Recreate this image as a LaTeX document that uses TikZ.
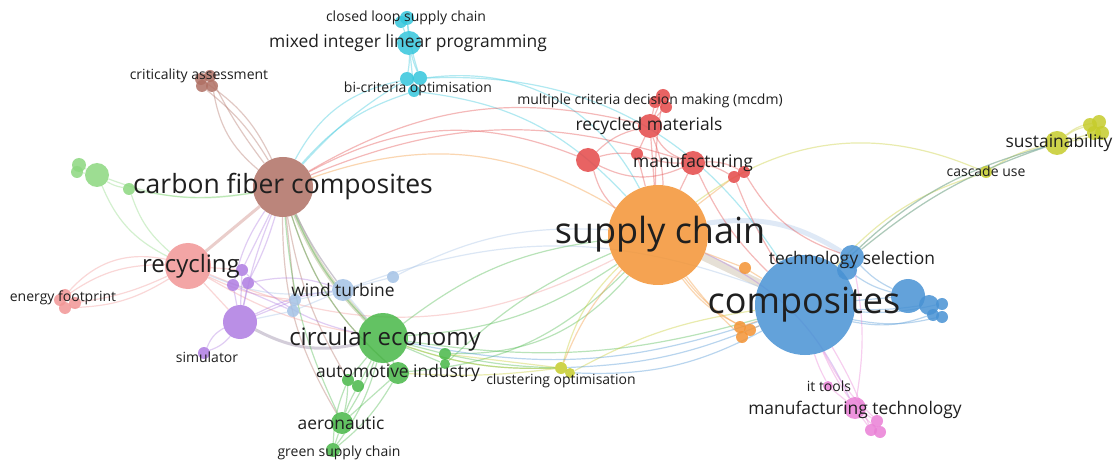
\documentclass[tikz,border=0pt]{standalone}
\usepackage{fontspec}
\setmainfont{Open Sans}

\definecolor{cOrange}{RGB}{244,148,52}
\definecolor{cBlue}{RGB}{72,146,212}
\definecolor{cBrown}{RGB}{176,112,100}
\definecolor{cGreen}{RGB}{72,184,72}
\definecolor{cRed}{RGB}{228,72,72}
\definecolor{cSalmon}{RGB}{242,150,150}
\definecolor{cPurple}{RGB}{174,124,226}
\definecolor{cCyan}{RGB}{52,198,220}
\definecolor{cYellow}{RGB}{198,204,44}
\definecolor{cPink}{RGB}{234,128,214}
\definecolor{cLgreen}{RGB}{140,216,128}
\definecolor{cLblue}{RGB}{164,194,230}
\definecolor{cTan}{RGB}{186,168,140}
\definecolor{cOlive}{RGB}{160,168,110}

\pgfdeclarelayer{edges}
\pgfdeclarelayer{labels}
\pgfsetlayers{edges,main,labels}

\tikzset{
  kw/.style={circle, fill=#1, fill opacity=.85, draw=none, inner sep=0pt},
  rad/.style={minimum size=2*#1pt},
  lnk/.style={draw=#1, opacity=.38, line width=1.2pt},
  lbl/.style={font=\fontsize{#1}{#1}\selectfont, text=black!88, inner sep=0pt},
}

\begin{document}
\begin{tikzpicture}[x=1pt, y=-1pt]
		%%%%% START %%%%%
		\useasboundingbox (0,0) rectangle (1116,462);

		% big bubbles
		\node[kw=cOrange, rad=50] (supply) at (658,235) {};
		\node[kw=cBlue, rad=50] (compo) at (805,305) {};
		\node[kw=cBrown, rad=30] (carbon) at (283,187) {};
		\node[kw=cSalmon, rad=23] (recyc) at (188,266) {};
		\node[kw=cGreen, rad=25] (circ) at (383,338) {};
		\node[kw=cPurple, rad=17] (purp) at (240,322) {};

		% cyan
		\node[kw=cCyan, rad=12] (mip) at (409,43) {};
		\node[kw=cCyan, rad=7] (clp) at (407,18) {};
		\node[kw=cCyan, rad=6] (clp2) at (401,22) {};
		\node[kw=cCyan, rad=7] (bc1) at (407,79) {};
		\node[kw=cCyan, rad=7] (bc2) at (420,78) {};
		\node[kw=cCyan, rad=6] (bc3) at (414,91) {};

		% brown
		\node[kw=cBrown, rad=6] (crit1) at (201,79) {};
		\node[kw=cBrown, rad=6] (crit2) at (210,76) {};
		\node[kw=cBrown, rad=6] (crit3) at (212,86) {};
		\node[kw=cBrown, rad=6] (crit4) at (202,86) {};

		% light green
		\node[kw=cLgreen, rad=7] (lg1) at (79,165) {};
		\node[kw=cLgreen, rad=6] (lg1b) at (77,172) {};
		\node[kw=cLgreen, rad=12] (lg2) at (97,175) {};
		\node[kw=cLgreen, rad=6] (lg3) at (129,189) {};

		% salmon
		\node[kw=cSalmon, rad=6] (ef1) at (65,295) {};
		\node[kw=cSalmon, rad=6] (ef2) at (75,303) {};
		\node[kw=cSalmon, rad=6] (ef3) at (65,308) {};
		\node[kw=cSalmon, rad=6] (ef4) at (60,300) {};

		% purple
		\node[kw=cPurple, rad=6] (pu1) at (242,270) {};
		\node[kw=cPurple, rad=6] (pu2) at (233,285) {};
		\node[kw=cPurple, rad=6] (pu3) at (248,283) {};
		\node[kw=cPurple, rad=6] (sim) at (204,353) {};

		% light blue
		\node[kw=cLblue, rad=11] (wind) at (343,290) {};
		\node[kw=cLblue, rad=6] (lb1) at (393,277) {};
		\node[kw=cLblue, rad=6] (lb2) at (295,300) {};
		\node[kw=cLblue, rad=6] (lb3) at (293,311) {};

		% green
		\node[kw=cGreen, rad=11] (autom) at (398,373) {};
		\node[kw=cGreen, rad=11] (aero) at (342,423) {};
		\node[kw=cGreen, rad=7] (gsc) at (333,450) {};
		\node[kw=cGreen, rad=6] (gr1) at (445,354) {};
		\node[kw=cGreen, rad=5] (gr2) at (445,364) {};
		\node[kw=cGreen, rad=6] (gr3) at (348,380) {};
		\node[kw=cGreen, rad=6] (gr4) at (358,386) {};

		% red
		\node[kw=cRed, rad=7] (mc1) at (663,96) {};
		\node[kw=cRed, rad=6] (mc2) at (655,102) {};
		\node[kw=cRed, rad=6] (mc3) at (666,107) {};
		\node[kw=cRed, rad=12] (recmat) at (650,126) {};
		\node[kw=cRed, rad=12] (red1) at (588,160) {};
		\node[kw=cRed, rad=6] (red2) at (637,154) {};
		\node[kw=cRed, rad=12] (manuf) at (693,163) {};
		\node[kw=cRed, rad=6] (red3) at (734,177) {};
		\node[kw=cRed, rad=6] (red4) at (744,172) {};

		% blue
		\node[kw=cBlue, rad=12] (tech1) at (852,257) {};
		\node[kw=cBlue, rad=10] (tech2) at (847,270) {};
		\node[kw=cBlue, rad=17] (br1) at (908,296) {};
		\node[kw=cBlue, rad=10] (br2) at (929,305) {};
		\node[kw=cBlue, rad=6] (br3) at (942,304) {};
		\node[kw=cBlue, rad=6] (br4) at (942,317) {};
		\node[kw=cBlue, rad=6] (br5) at (933,315) {};

		% orange
		\node[kw=cOrange, rad=6] (or1) at (745,268) {};
		\node[kw=cOrange, rad=6] (or2) at (740,327) {};
		\node[kw=cOrange, rad=6] (or3) at (750,330) {};
		\node[kw=cOrange, rad=6] (or4) at (742,337) {};

		% pink
		\node[kw=cPink, rad=5] (itt) at (828,386) {};
		\node[kw=cPink, rad=11] (mant) at (855,408) {};
		\node[kw=cPink, rad=6] (pk1) at (877,421) {};
		\node[kw=cPink, rad=6] (pk2) at (871,430) {};
		\node[kw=cPink, rad=6] (pk3) at (880,432) {};

		% yellow
		\node[kw=cYellow, rad=12] (sust) at (1057,143) {};
		\node[kw=cYellow, rad=7] (ye1) at (1090,125) {};
		\node[kw=cYellow, rad=7] (ye2) at (1099,122) {};
		\node[kw=cYellow, rad=7] (ye3) at (1102,133) {};
		\node[kw=cYellow, rad=7] (ye4) at (1094,133) {};
		\node[kw=cYellow, rad=6] (casc) at (986,172) {};
		\node[kw=cYellow, rad=6] (clu1) at (561,368) {};
		\node[kw=cYellow, rad=5] (clu2) at (570,373) {};

		%%%%% LINKS %%%%%
		\begin{pgfonlayer}{edges}
		\fill[white] (0,0) rectangle (1116,462);

		\draw[lnk=cTan, line width=8pt, opacity=.35] (supply) -- (compo);
		\draw[lnk=cLblue, line width=5pt, opacity=.35] (supply) to[bend left=20] (tech1);
		\draw[lnk=cOlive, line width=4pt] (carbon) to[bend right=10] (circ);
		\draw[lnk=cBrown!60!cSalmon, line width=3pt] (carbon) -- (recyc);
		\draw[lnk=gray!70!cPurple, line width=3pt] (purp) to[bend right=20] (circ);

		\foreach \a/\b/\c in {mip/clp/0, mip/clp2/0, mip/bc1/5, mip/bc2/-5, mip/bc3/0, clp/bc2/-5,
		    bc1/carbon/-25, bc3/carbon/-15, bc1/carbon/-8, bc2/supply/35, bc3/supply/20, bc2/compo/30}
		  \draw[lnk=cCyan] (\a) to[bend left=\c] (\b);

		\foreach \a/\b/\c in {crit1/carbon/15, crit2/carbon/-5, crit3/carbon/-20, crit4/carbon/10,
		    carbon/wind/-5, carbon/autom/-15, carbon/aero/-15, carbon/gr3/-10, carbon/lb2/0}
		  \draw[lnk=cBrown] (\a) to[bend left=\c] (\b);

		\foreach \a/\b/\c in {carbon/red1/25, carbon/manuf/20, carbon/recmat/22, recmat/mc1/0, recmat/mc2/0,
		    recmat/mc3/5, recmat/red1/-15, recmat/red2/0, recmat/manuf/-20, recmat/supply/0, recmat/supply/10,
		    red1/supply/-15, red1/manuf/-25, red2/manuf/-10, red2/supply/0, manuf/red3/10, manuf/red4/15,
		    manuf/supply/0, red3/compo/-5, red4/tech1/-20, mc1/supply/-5, red1/red2/10, manuf/compo/-10}
		  \draw[lnk=cRed] (\a) to[bend left=\c] (\b);

		\foreach \a/\b/\c in {ef1/recyc/30, ef4/recyc/18, ef2/recyc/-8, ef3/recyc/-15, recyc/circ/-10,
		    recyc/purp/0, recyc/supply/-25, recyc/pu1/0, recyc/lb2/-10}
		  \draw[lnk=cSalmon] (\a) to[bend left=\c] (\b);

		\foreach \a/\b/\c in {lg2/carbon/-15, lg3/carbon/-10, lg2/recyc/-20, lg3/recyc/-15, lg1/lg2/0,
		    lg1b/lg2/0, lg2/lg3/-10}
		  \draw[lnk=cLgreen] (\a) to[bend left=\c] (\b);

		\foreach \a/\b/\c in {purp/pu1/0, purp/pu2/0, purp/pu3/0, purp/sim/-20, purp/sim/15, pu1/carbon/0,
		    pu2/carbon/10, purp/carbon/5, pu3/carbon/-5, purp/wind/10, purp/lb2/0, pu3/wind/15,
		    pu1/circ/-15, supply/mant/20, pu2/lb3/0}
		  \draw[lnk=cPurple] (\a) to[bend left=\c] (\b);

		\foreach \a/\b/\c in {wind/lb1/0, wind/lb2/0, wind/lb3/0, lb1/supply/15, wind/carbon/5,
		    wind/circ/0, wind/recyc/15, lb3/purp/0, wind/compo/20}
		  \draw[lnk=cLblue] (\a) to[bend left=\c] (\b);

		\foreach \a/\b/\c in {circ/autom/0, circ/aero/5, circ/gsc/10, circ/gr1/0, circ/gr2/0, circ/gr3/0,
		    circ/gr4/0, autom/aero/0, gr3/aero/5, gr4/aero/-5, aero/gsc/0, autom/gsc/10, gr3/gsc/-10,
		    circ/supply/-15, circ/supply/15, gr1/supply/-25, autom/supply/-20, gr2/supply/10,
		    circ/carbon/10, aero/carbon/10, autom/carbon/15, circ/clu1/-10, gr1/clu1/-5, circ/compo/-12}
		  \draw[lnk=cGreen] (\a) to[bend left=\c] (\b);

		\foreach \a/\b/\c in {sust/ye1/10, sust/ye2/15, sust/ye3/-5, sust/ye4/0, sust/casc/-10,
		    casc/supply/-30, casc/compo/-15, sust/compo/-15, sust/tech1/-10, clu1/circ/10, clu1/autom/5,
		    clu1/supply/15, clu2/compo/10, clu1/gr1/0}
		  \draw[lnk=cYellow] (\a) to[bend left=\c] (\b);

		\foreach \a/\b/\c in {carbon/supply/25, supply/or1/0, supply/or2/-10, supply/or3/-15, supply/or4/-5,
		    supply/clu1/-10, or1/compo/0, or2/compo/0, or3/compo/0, supply/red3/0}
		  \draw[lnk=cOrange] (\a) to[bend left=\c] (\b);

		\foreach \a/\b/\c in {compo/tech1/0, compo/tech2/0, compo/br1/0, compo/br2/-5, compo/br3/-8,
		    compo/br4/-12, compo/br5/-15, br1/tech1/10, tech2/br1/-10, compo/circ/15, compo/clu1/10,
		    compo/clu2/15, compo/sust/15, tech1/sust/10}
		  \draw[lnk=cBlue] (\a) to[bend left=\c] (\b);

		\foreach \a/\b/\c in {compo/mant/-5, compo/itt/-5, compo/pk1/-10, compo/pk2/5, mant/pk1/0,
		    mant/pk2/0, mant/pk3/0, itt/mant/0, tech1/mant/10}
		  \draw[lnk=cPink] (\a) to[bend left=\c] (\b);
		\end{pgfonlayer}

		%%%%% LABELS %%%%%
		\begin{pgfonlayer}{labels}
		\node[lbl=36] (supply-t) at (660,234) {supply chain};
		\node[lbl=36] (compo-t) at (804,305) {composites};
		\node[lbl=26.5] (carbon-t) at (283,187) {carbon fiber composites};
		\node[lbl=24] (circ-t) at (385,339) {circular economy};
		\node[lbl=24] (recyc-t) at (191,266) {recycling};
		\node[lbl=17.4] (mip-t) at (408,43) {mixed integer linear programming};
		\node[lbl=17.4] (recmat-t) at (649,126) {recycled materials};
		\node[lbl=17.4] (manuf-t) at (693,163) {manufacturing};
		\node[lbl=17.4] (tech-t) at (852,260) {technology selection};
		\node[lbl=17.4] (wind-t) at (343,290) {wind turbine};
		\node[lbl=17.4] (autom-t) at (398,373) {automotive industry};
		\node[lbl=17.4] (aero-t) at (341,423) {aeronautic};
		\node[lbl=17.4] (sust-t) at (1059,143) {sustainability};
		\node[lbl=17.4] (mant-t) at (855,410) {manufacturing technology};
		\node[lbl=14] (clp-t) at (406,18) {closed loop supply chain};
		\node[lbl=14] (bc-t) at (418,89) {bi-criteria optimisation};
		\node[lbl=14] (crit-t) at (199,76) {criticality assessment};
		\node[lbl=14] (mc-t) at (650,101) {multiple criteria decision making (mcdm)};
		\node[lbl=14] (ef-t) at (63,298) {energy footprint};
		\node[lbl=14] (sim-t) at (207,357) {simulator};
		\node[lbl=14] (gsc-t) at (339,453) {green supply chain};
		\node[lbl=14] (clu-t) at (561,381) {clustering optimisation};
		\node[lbl=14] (itt-t) at (829,386) {it tools};
		\node[lbl=14] (casc-t) at (986,171) {cascade use};
		\end{pgfonlayer}

		%%%%% END %%%%%
\end{tikzpicture}
\end{document}
